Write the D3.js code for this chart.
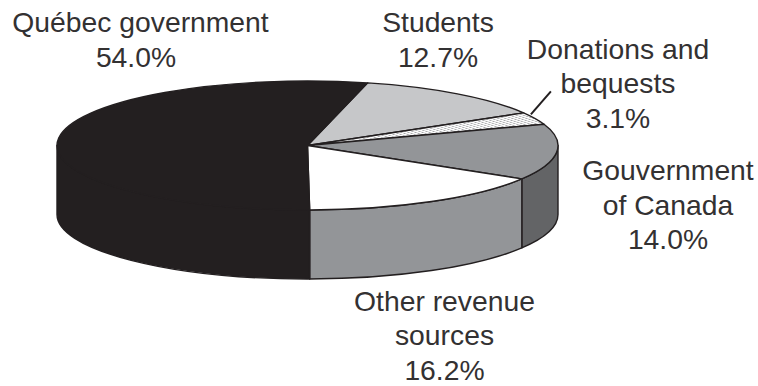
<!DOCTYPE html>
<html>
<head>
<meta charset="utf-8">
<script src="https://cdn.jsdelivr.net/npm/d3@7/dist/d3.min.js"></script>
<style>
html,body{margin:0;padding:0;background:#fff}
svg{display:block}
text{font-family:"Liberation Sans",Arial,sans-serif;font-size:28.3px;fill:#333132;text-anchor:middle}
</style>
</head>
<body>
<svg id="chart" width="758" height="386"></svg>
<script>
const categories = ["Students", "Donations and bequests", "Gouvernment of Canada", "Other revenue sources", "Québec government"];
const shares = [12.7, 3.1, 14.0, 16.2, 54.0];
const topFills = ["#c6c7c9", "url(#hatch)", "#939598", "#ffffff", "#231f20"];
const sideFills = ["#c6c7c9", "#ffffff", "#636466", "#939598", "#231f20"];
const labelLines = [
  ["Students", "12.7%"],
  ["Donations and", "bequests", "3.1%"],
  ["Gouvernment", "of Canada", "14.0%"],
  ["Other revenue", "sources", "16.2%"],
  ["Québec government", "54.0%"]
];
const labelAnchors = [[438, 32], [618, 58.5], [668, 180], [444.5, 310.8], [140.5, 32]];
const lastLineShift = [0, 0, 0, 0, -4.5];

const cx = 307.5, cy = 145.5, rx = 250.5, ry = 64.5, depth = 69;
const lineGap = 34.5;
const startDeg = 13.9;

const svg = d3.select("#chart");
const toRad = d => d * Math.PI / 180;

const defs = svg.append("defs");
const hatch = defs.append("pattern").attr("id", "hatch")
  .attr("patternUnits", "userSpaceOnUse").attr("width", 5).attr("height", 5)
  .attr("patternTransform", "rotate(45)");
hatch.append("rect").attr("width", 5).attr("height", 5).attr("fill", "#fff");
hatch.append("rect").attr("width", 1.6).attr("height", 5).attr("fill", "#a7a8aa");

const pie = d3.pie().sort(null)
  .startAngle(toRad(startDeg)).endAngle(toRad(startDeg + 360));
const arcs = pie(shares);

// Point on the rim of the flattened disc, angle measured clockwise from north
const rimX = a => cx + rx * Math.sin(a);
const rimY = (a, drop = 0) => cy - ry * Math.cos(a) + drop;

// Wall segment: only the front half of the rim (90deg to 270deg) is visible
function wallPath(a0, a1) {
  const lo = Math.max(a0, Math.PI / 2), hi = Math.min(a1, Math.PI * 1.5);
  if (hi <= lo) return null;
  return `M${rimX(lo)},${rimY(lo)}`
    + `A${rx},${ry} 0 0 1 ${rimX(hi)},${rimY(hi)}`
    + `L${rimX(hi)},${rimY(hi, depth)}`
    + `A${rx},${ry} 0 0 0 ${rimX(lo)},${rimY(lo, depth)}Z`;
}

svg.append("g").selectAll("path")
  .data(arcs.filter(d => wallPath(d.startAngle, d.endAngle)))
  .join("path")
  .attr("d", d => wallPath(d.startAngle, d.endAngle))
  .attr("fill", d => sideFills[d.index])
  .attr("stroke", "#231f20")
  .attr("stroke-width", 1.4)
  .attr("stroke-linejoin", "round");

// Top face: a regular pie squashed vertically, keeping a constant stroke width
const arc = d3.arc().innerRadius(0).outerRadius(rx);
svg.append("g")
  .attr("transform", `translate(${cx},${cy}) scale(1,${ry / rx})`)
  .selectAll("path")
  .data(arcs)
  .join("path")
  .attr("d", arc)
  .attr("fill", d => topFills[d.index])
  .attr("stroke", "#231f20")
  .attr("stroke-width", 1.4)
  .attr("stroke-linejoin", "round")
  .attr("vector-effect", "non-scaling-stroke");

// Leader from the narrow donations slice up to its label
const donation = arcs[1];
const mid = (donation.startAngle + donation.endAngle) / 2;
svg.append("line")
  .attr("x1", rimX(mid) - 4).attr("y1", rimY(mid) - 4)
  .attr("x2", rimX(mid) + 16).attr("y2", rimY(mid) - 27)
  .attr("stroke", "#231f20").attr("stroke-width", 2);

const labels = svg.append("g").selectAll("text")
  .data(labelLines)
  .join("text")
  .attr("transform", (d, i) => `translate(${labelAnchors[i][0]},${labelAnchors[i][1]})`);
labels.each(function (lines, k) {
  d3.select(this).selectAll("tspan")
    .data(lines)
    .join("tspan")
    .attr("x", (d, i) => i === lines.length - 1 ? lastLineShift[k] : 0)
    .attr("y", (d, i) => i * lineGap)
    .text(d => d);
});
</script>
</body>
</html>
